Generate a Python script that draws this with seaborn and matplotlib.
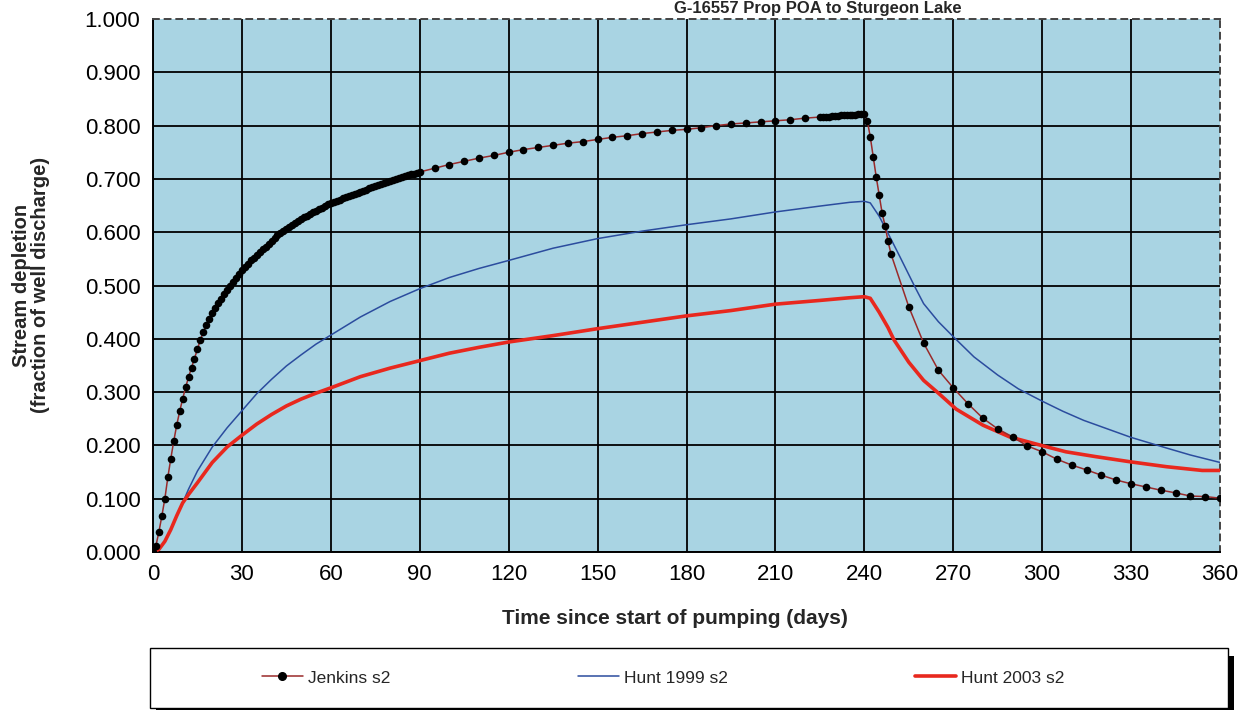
import numpy as np
import pandas as pd
import matplotlib
matplotlib.use("Agg")
import matplotlib.pyplot as plt
from matplotlib.lines import Line2D
from matplotlib.patches import Rectangle
import seaborn as sns

# Datos
title = "G-16557 Prop POA to Sturgeon Lake"
series_names = ["Jenkins s2", "Hunt 1999 s2", "Hunt 2003 s2"]

jenkins_days = list(range(0, 91)) + list(range(95, 226, 5)) + list(range(226, 250)) + list(range(255, 361, 5))
jenkins_vals = [
    0.000, 0.012, 0.038, 0.068, 0.100, 0.140, 0.175, 0.208, 0.238, 0.264,
    0.287, 0.309, 0.328, 0.346, 0.363, 0.381, 0.398, 0.413, 0.426, 0.437,
    0.448, 0.458, 0.467, 0.475, 0.484, 0.492, 0.500, 0.507, 0.515, 0.522,
    0.529, 0.535, 0.541, 0.547, 0.552, 0.558, 0.563, 0.568, 0.573, 0.578,
    0.584, 0.589, 0.594, 0.598, 0.602, 0.606, 0.610, 0.614, 0.618, 0.621,
    0.625, 0.628, 0.631, 0.634, 0.637, 0.640, 0.643, 0.646, 0.649, 0.652,
    0.654, 0.657, 0.659, 0.661, 0.664, 0.666, 0.668, 0.670, 0.672, 0.674,
    0.676, 0.678, 0.680, 0.682, 0.684, 0.686, 0.688, 0.690, 0.692, 0.694,
    0.696, 0.698, 0.700, 0.702, 0.704, 0.705, 0.707, 0.709, 0.710, 0.712,
    0.713,
    # 95..225 cada 5 dias
    0.720, 0.727, 0.733, 0.739, 0.744, 0.750, 0.755, 0.759, 0.763, 0.767,
    0.770, 0.774, 0.778, 0.781, 0.785, 0.788, 0.791, 0.793, 0.796, 0.800,
    0.803, 0.805, 0.807, 0.809, 0.811, 0.814, 0.816,
    # 226..249
    0.817, 0.817, 0.817, 0.818, 0.818, 0.818, 0.819, 0.819, 0.819, 0.820,
    0.820, 0.820, 0.821, 0.821, 0.822,
    0.809, 0.779, 0.741, 0.704, 0.670, 0.636, 0.612, 0.583, 0.559,
    # 255..360
    0.460, 0.392, 0.341, 0.308, 0.278, 0.251, 0.231, 0.216, 0.199, 0.188,
    0.174, 0.163, 0.154, 0.144, 0.135, 0.128, 0.122, 0.116, 0.111, 0.105,
    0.104, 0.101,
]

hunt99_days = [0, 2, 4, 6, 8, 10, 12, 15, 20, 25, 30, 35, 40, 45, 50, 55, 60, 70, 80, 90,
               100, 110, 120, 135, 150, 165, 180, 195, 210, 225, 235, 240, 242, 245, 248,
               252, 257, 260, 265, 270, 277, 285, 292, 300, 307, 314, 322, 330, 336, 342,
               350, 360]
hunt99_vals = [0.000, 0.005, 0.020, 0.042, 0.068, 0.092, 0.118, 0.152, 0.197, 0.233,
               0.265, 0.297, 0.324, 0.349, 0.370, 0.390, 0.407, 0.441, 0.470, 0.494,
               0.515, 0.532, 0.547, 0.570, 0.588, 0.602, 0.614, 0.625, 0.638, 0.649,
               0.656, 0.658, 0.655, 0.630, 0.598, 0.554, 0.498, 0.466, 0.432, 0.404,
               0.366, 0.332, 0.306, 0.283, 0.264, 0.247, 0.231, 0.215, 0.205, 0.195,
               0.182, 0.168]

hunt03_days = [0, 2, 4, 6, 8, 10, 12, 15, 20, 25, 30, 35, 40, 45, 50, 55, 60, 70, 80, 90,
               100, 110, 120, 135, 150, 165, 180, 195, 210, 225, 235, 240, 242, 245, 248,
               250, 255, 260, 265, 271, 280, 289, 299, 308, 318, 330, 342, 354, 360]
hunt03_vals = [0.000, 0.005, 0.020, 0.042, 0.068, 0.092, 0.108, 0.130, 0.168, 0.197,
               0.219, 0.240, 0.258, 0.274, 0.287, 0.298, 0.308, 0.329, 0.345, 0.359,
               0.373, 0.384, 0.394, 0.406, 0.419, 0.431, 0.443, 0.453, 0.465, 0.472,
               0.477, 0.479, 0.476, 0.450, 0.421, 0.398, 0.356, 0.322, 0.298, 0.268,
               0.238, 0.216, 0.201, 0.188, 0.179, 0.169, 0.160, 0.153, 0.153]

x_ticks = list(range(0, 361, 30))
y_ticks = [0.0, 0.1, 0.2, 0.3, 0.4, 0.5, 0.6, 0.7, 0.8, 0.9, 1.0]

# Colores
bg_color = "#a9d4e3"
jenkins_line = "#9a2a2a"
hunt99_color = "#2b4c9e"
hunt03_color = "#e8281e"

df_j = pd.DataFrame({"dias": jenkins_days, "agotamiento": jenkins_vals})
df_h99 = pd.DataFrame({"dias": hunt99_days, "agotamiento": hunt99_vals})
df_h03 = pd.DataFrame({"dias": hunt03_days, "agotamiento": hunt03_vals})

sns.set_style("white")
plt.rcParams["font.family"] = ["Liberation Sans", "DejaVu Sans"]

fig = plt.figure(figsize=(12.42, 7.10), dpi=100)
ax = fig.add_axes([153 / 1242, 1 - 552 / 710, (1220 - 153) / 1242, (552 - 19) / 710])
ax.set_facecolor(bg_color)

sns.lineplot(data=df_h99, x="dias", y="agotamiento", ax=ax, color=hunt99_color,
             linewidth=1.1, estimator=None, sort=False, zorder=3)
sns.lineplot(data=df_h03, x="dias", y="agotamiento", ax=ax, color=hunt03_color,
             linewidth=2.6, estimator=None, sort=False, zorder=3)
sns.lineplot(data=df_j, x="dias", y="agotamiento", ax=ax, color=jenkins_line,
             linewidth=1.1, estimator=None, sort=False, zorder=4)
sns.scatterplot(data=df_j, x="dias", y="agotamiento", ax=ax, color="black",
                s=30, edgecolor="black", linewidth=0, zorder=5)

ax.set_xlim(0, 360)
ax.set_ylim(0, 1.0)
ax.set_xticks(x_ticks)
ax.set_yticks(y_ticks)
ax.set_yticklabels([f"{v:.3f}" for v in y_ticks])
ax.set_xlabel("")
ax.set_ylabel("")
ax.set_axisbelow(True)
ax.grid(True, color="black", linewidth=1.3)
ax.get_ygridlines()[-1].set_visible(False)
ax.get_xgridlines()[-1].set_visible(False)
ax.tick_params(axis="both", direction="out", length=5, width=1.2, colors="black",
               labelsize=16, pad=4)

for s in ["left", "bottom"]:
    ax.spines[s].set_color("black")
    ax.spines[s].set_linewidth(1.4)
for s in ["top", "right"]:
    ax.spines[s].set_color("#444444")
    ax.spines[s].set_linewidth(1.4)
    ax.spines[s].set_linestyle((0, (3, 3)))

# Titulo (arriba del todo, casi pegado al borde como en la imagen)
fig.text(818 / 1242, 1 - 13 / 710, title, ha="center", va="baseline",
         fontsize=12, fontweight="bold")
fig.text(675 / 1242, 1 - 619 / 710, "Time since start of pumping (days)",
         ha="center", va="center", fontsize=15, fontweight="bold")
fig.text(31 / 1242, 1 - 285 / 710, "Stream depletion\n(fraction of well discharge)",
         ha="center", va="center", rotation=90, fontsize=14.5, fontweight="bold",
         multialignment="center", linespacing=1.0)

# Caja de la leyenda con sombra
fig.patches.append(Rectangle((156 / 1242, 1 - 716 / 710), (1228 - 150) / 1242, (708 - 648) / 710,
                             transform=fig.transFigure, facecolor="black", edgecolor="none", zorder=0))
fig.patches.append(Rectangle((150 / 1242, 1 - 708 / 710), (1228 - 150) / 1242, (708 - 648) / 710,
                             transform=fig.transFigure, facecolor="white", edgecolor="black",
                             linewidth=1.0, zorder=1))

handles = [
    Line2D([], [], color=jenkins_line, linewidth=1.1, marker="o", markerfacecolor="black",
           markeredgecolor="black", markersize=5.5),
    Line2D([], [], color=hunt99_color, linewidth=1.1),
    Line2D([], [], color=hunt03_color, linewidth=2.6),
]
fig.legend(handles, series_names, loc="center left", bbox_to_anchor=(262 / 1242, 1 - 678 / 710),
           ncol=3, frameon=False, fontsize=12.5, handlelength=2.35, handletextpad=0.3,
           columnspacing=10.8, borderpad=0, borderaxespad=0)

fig.savefig("out.png", dpi=100)
